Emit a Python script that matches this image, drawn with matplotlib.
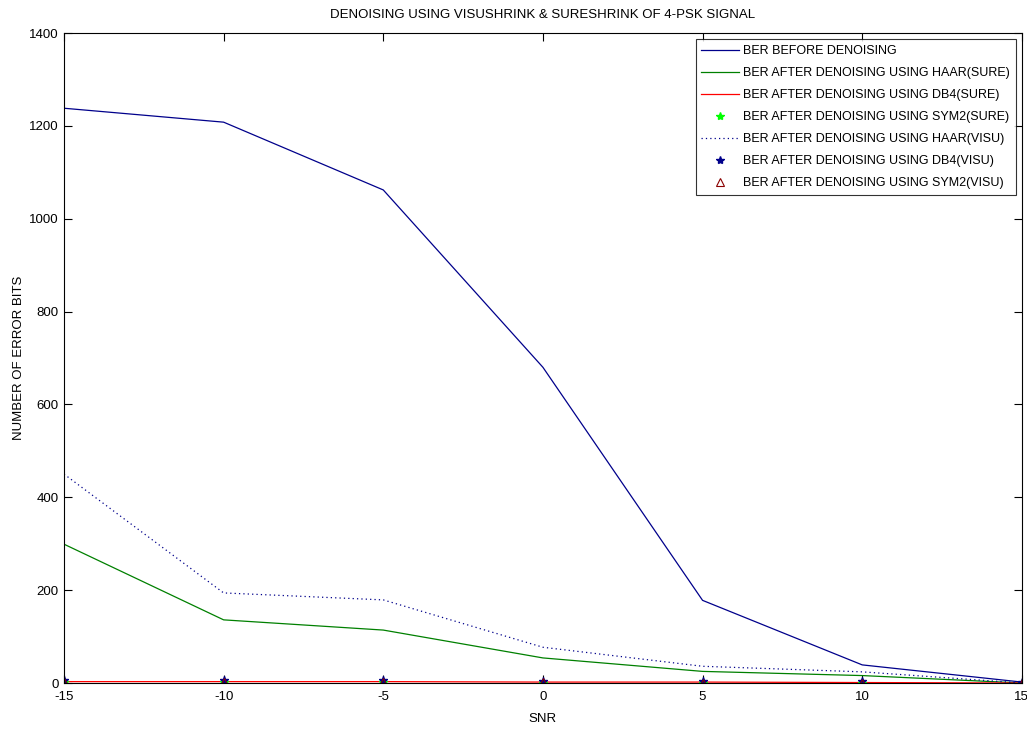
import matplotlib
matplotlib.use("Agg")
import matplotlib.pyplot as plt
from matplotlib import font_manager

snr = [-15, -10, -5, 0, 5, 10, 15]
ber_before = [1238, 1208, 1062, 680, 178, 39, 2]
haar_sure = [299, 136, 114, 54, 25, 16, 0]
db4_sure = [3, 3, 3, 2, 2, 1, 0]
sym2_sure = [2, 2, 2, 1, 1, 1, 0]
haar_visu = [450, 194, 179, 77, 36, 24, 0]
db4_visu = [6, 6, 6, 5, 5, 4, 2]
sym2_visu = [2, 2, 2, 2, 1, 1, 0]

names = {f.name for f in font_manager.fontManager.ttflist}
fam = ['Liberation Sans Narrow'] if 'Liberation Sans Narrow' in names else []
plt.rcParams['font.family'] = fam + ['Liberation Sans', 'DejaVu Sans']
plt.rcParams['axes.unicode_minus'] = False
fs = 11 if fam else 9.5
lfs = 10.4 if fam else 9.0

fig = plt.figure(figsize=(10.27, 7.29), dpi=100)
ax = fig.add_axes([0.0623, 0.0631, 0.9327, 0.8916])

ax.plot(snr, ber_before, color='#00008B', lw=0.9, label='BER BEFORE DENOISING')
ax.plot(snr, haar_sure, color='#008000', lw=0.9, label='BER AFTER DENOISING USING HAAR(SURE)')
ax.plot(snr, db4_sure, color='#FF0000', lw=0.9, label='BER AFTER DENOISING USING DB4(SURE)')
ax.plot(snr, sym2_sure, color='#00FF00', lw=0, marker='*', ms=6, label='BER AFTER DENOISING USING SYM2(SURE)')
ax.plot(snr, haar_visu, color='#00008B', lw=0.9, ls=(0, (1, 2.5)), label='BER AFTER DENOISING USING HAAR(VISU)')
ax.plot(snr, db4_visu, color='#00008B', lw=0, marker='*', ms=6, label='BER AFTER DENOISING USING DB4(VISU)')
ax.plot(snr, sym2_visu, color='#8B0000', lw=0, marker='^', ms=6, mfc='none', mew=0.8, label='BER AFTER DENOISING USING SYM2(VISU)')

ax.set_xlim(-15, 15)
ax.set_ylim(0, 1400)
ax.set_xticks(range(-15, 16, 5))
ax.set_yticks(range(0, 1401, 200))
ax.tick_params(direction='in', top=True, right=True, labelsize=fs, length=6)
ax.tick_params(axis='x', pad=6)
ax.tick_params(axis='y', pad=4)
for s in ax.spines.values():
    s.set_linewidth(0.8)
ax.set_xlabel('SNR', fontsize=fs, labelpad=7)
ax.set_ylabel('NUMBER OF ERROR BITS', fontsize=fs, labelpad=3)
ax.set_title('DENOISING USING VISUSHRINK & SURESHRINK OF 4-PSK SIGNAL', fontsize=fs, pad=11)
leg = ax.legend(loc='upper right', fontsize=lfs, frameon=True, fancybox=False, edgecolor='black',
                borderaxespad=0.5, handlelength=3.0, labelspacing=0.8, borderpad=0.45, handletextpad=0.35)
leg.get_frame().set_linewidth(0.8)
fig.savefig('out.png', dpi=100)
